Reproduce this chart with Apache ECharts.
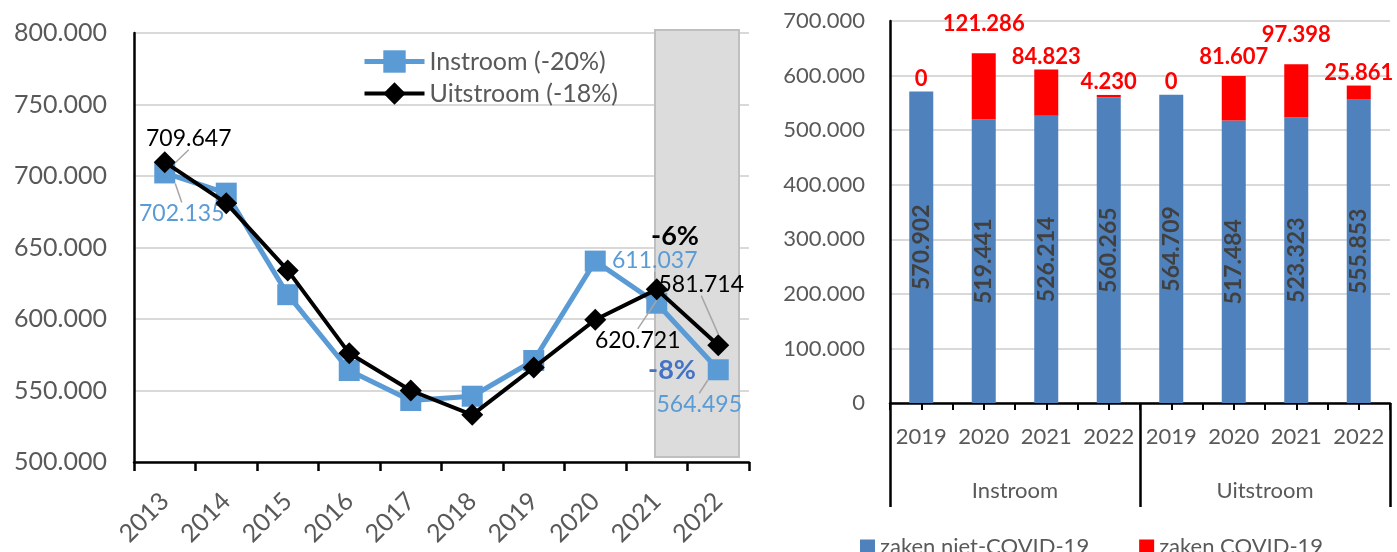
<!DOCTYPE html>
<html>
<head>
<meta charset="utf-8">
<script src="https://cdn.jsdelivr.net/npm/echarts@6/dist/echarts.min.js"></script>
<style>
  html, body { margin: 0; padding: 0; background: #fff; }
  #main { width: 1397px; height: 552px; }
</style>
</head>
<body>
<div id="main"></div>
<script>
// left chart: instroom / uitstroom per year
var years = ['2013','2014','2015','2016','2017','2018','2019','2020','2021','2022'];
var instroom = [702135, 688000, 617000, 564000, 543000, 546000, 571000, 640500, 611037, 564495];
var uitstroom = [709647, 681000, 634000, 576000, 550000, 533000, 566000, 599500, 620721, 581714];
var labelledYears = [0, 8, 9];

// right chart: covid / niet-covid cases
var barYears = ['2019','2020','2021','2022','2019','2020','2021','2022'];
var groups = ['Instroom','Uitstroom'];
var nietCovid = [570902, 519441, 526214, 560265, 564709, 517484, 523323, 555853];
var covid = [0, 121286, 84823, 4230, 0, 81607, 97398, 25861];

// label offsets (styling only)
var inOffsets = {0: [17, 41], 8: [-2, -43], 9: [-19, 35]};
var uitOffsets = {0: [24, -24], 8: [-19, 51], 9: [-17, -61]};
var covidLift = [0, 16, 0, 0, 0, 6, 16, 0];

var FONT = 'Lato';
var GREY = '#595959';

function fmt(v) {
    if (v < 1000) return String(v);
    var k = Math.floor(v / 1000);
    var r = String(v % 1000);
    while (r.length < 3) r = '0' + r;
    return k + '.' + r;
}

function lineData(vals) {
    var arr = [];
    for (var i = 0; i < vals.length; i++) {
        if (labelledYears.indexOf(i) >= 0) {
            arr.push({ value: vals[i], label: { show: true } });
        } else {
            arr.push(vals[i]);
        }
    }
    return arr;
}

var covidData = [];
for (var i = 0; i < covid.length; i++) {
    covidData.push({ value: covid[i], label: { distance: 2 + covidLift[i] } });
}

var myChart = echarts.init(document.getElementById('main'));

var option = {
    animation: false,
    textStyle: { fontFamily: FONT },
    grid: [
        { left: 134, top: 33, width: 615, height: 429 },
        { left: 890, top: 21, width: 500, height: 382 }
    ],
    legend: [
        {
            data: [
                { name: 'Instroom (-20%)', lineStyle: { width: 5 } },
                { name: 'Uitstroom (-18%)', lineStyle: { width: 4 } }
            ],
            orient: 'vertical',
            left: 357,
            top: 44,
            itemWidth: 60,
            itemHeight: 28,
            itemGap: 7,
            textStyle: { fontSize: 25, color: GREY, fontFamily: FONT }
        },
        {
            data: ['zaken niet-COVID-19', 'zaken COVID-19'],
            left: 855,
            top: 531,
            icon: 'rect',
            itemWidth: 15,
            itemHeight: 15,
            itemGap: 50,
            textStyle: { fontSize: 22, color: GREY, fontFamily: FONT }
        }
    ],
    xAxis: [
        {
            type: 'category',
            gridIndex: 0,
            data: years,
            boundaryGap: true,
            axisLine: { lineStyle: { color: '#000', width: 2.5 } },
            axisTick: { show: true, interval: 0, length: 9, lineStyle: { color: '#000', width: 2.5 } },
            axisLabel: { rotate: 45, interval: 0, margin: 35, fontSize: 25, color: GREY, fontFamily: FONT },
            splitLine: { show: false }
        },
        {
            type: 'category',
            gridIndex: 1,
            data: barYears,
            axisLine: { lineStyle: { color: '#000', width: 2.5 } },
            axisTick: { show: true, interval: 0, length: 7, lineStyle: { color: '#000', width: 2 } },
            axisLabel: { interval: 0, margin: 23, fontSize: 22, color: GREY, fontFamily: FONT }
        },
        {
            type: 'category',
            gridIndex: 1,
            position: 'bottom',
            data: barYears,
            axisLine: { show: false },
            axisTick: { show: true, alignWithLabel: true, interval: 0, length: 7, lineStyle: { color: '#000', width: 2 } },
            axisLabel: { show: false }
        },
        {
            type: 'category',
            gridIndex: 1,
            position: 'bottom',
            data: groups,
            axisLine: { show: false },
            axisTick: { show: true, interval: 0, length: 104, lineStyle: { color: '#000', width: 2.5 } },
            axisLabel: { interval: 0, margin: 77, fontSize: 22, color: GREY, fontFamily: FONT }
        }
    ],
    yAxis: [
        {
            type: 'value',
            gridIndex: 0,
            min: 500000,
            max: 800000,
            interval: 50000,
            axisLine: { show: true, lineStyle: { color: '#000', width: 2.5 } },
            axisTick: { show: false },
            axisLabel: { margin: 27, fontSize: 25, color: GREY, fontFamily: FONT, formatter: fmt },
            splitLine: { lineStyle: { color: '#D9D9D9', width: 2 } }
        },
        {
            type: 'value',
            gridIndex: 1,
            min: 0,
            max: 700000,
            interval: 100000,
            axisLine: { show: true, lineStyle: { color: '#000', width: 2.5 } },
            axisTick: { show: false },
            axisLabel: { margin: 25, fontSize: 22, color: GREY, fontFamily: FONT, formatter: fmt },
            splitLine: { lineStyle: { color: '#D9D9D9', width: 2 } }
        }
    ],
    graphic: [
        {
            type: 'rect',
            z: 1,
            shape: { x: 655, y: 30, width: 84, height: 427 },
            style: { fill: '#DCDCDC', stroke: '#BFBFBF', lineWidth: 2 }
        },
        {
            type: 'text',
            z: 100,
            x: 675, y: 236,
            style: { text: '-6%', font: 'bold 27px ' + FONT, fill: '#000', align: 'center', verticalAlign: 'middle' }
        },
        {
            type: 'text',
            z: 100,
            x: 672, y: 370,
            style: { text: '-8%', font: 'bold 27px ' + FONT, fill: '#4472C4', align: 'center', verticalAlign: 'middle' }
        }
    ],
    series: [
        {
            name: 'Instroom (-20%)',
            type: 'line',
            xAxisIndex: 0,
            yAxisIndex: 0,
            data: lineData(instroom),
            symbol: 'rect',
            symbolSize: 21,
            itemStyle: { color: '#5B9BD5' },
            lineStyle: { color: '#5B9BD5', width: 5 },
            label: {
                show: false,
                position: 'inside',
                fontSize: 23,
                color: '#5B9BD5',
                fontFamily: FONT,
                formatter: function (p) { return fmt(p.value); }
            },
            labelLine: { show: true, lineStyle: { color: '#A6A6A6', width: 1.5 } },
            labelLayout: function (p) {
                var o = inOffsets[p.dataIndex] || [0, 0];
                return { dx: o[0], dy: o[1] };
            },
            z: 3
        },
        {
            name: 'Uitstroom (-18%)',
            type: 'line',
            xAxisIndex: 0,
            yAxisIndex: 0,
            data: lineData(uitstroom),
            symbol: 'diamond',
            symbolSize: 22,
            itemStyle: { color: '#000' },
            lineStyle: { color: '#000', width: 4 },
            label: {
                show: false,
                position: 'inside',
                fontSize: 23,
                color: '#000',
                fontFamily: FONT,
                formatter: function (p) { return fmt(p.value); }
            },
            labelLine: { show: true, lineStyle: { color: '#A6A6A6', width: 1.5 } },
            labelLayout: function (p) {
                var o = uitOffsets[p.dataIndex] || [0, 0];
                return { dx: o[0], dy: o[1] };
            },
            z: 4
        },
        {
            name: 'zaken niet-COVID-19',
            type: 'bar',
            xAxisIndex: 1,
            yAxisIndex: 1,
            stack: 'zaken',
            barWidth: 24,
            data: nietCovid,
            itemStyle: { color: '#4F81BD' },
            label: {
                show: true,
                position: 'inside',
                rotate: 90,
                fontSize: 23,
                fontWeight: 'bold',
                color: '#404040',
                fontFamily: FONT,
                formatter: function (p) { return fmt(p.value); }
            }
        },
        {
            name: 'zaken COVID-19',
            type: 'bar',
            xAxisIndex: 1,
            yAxisIndex: 1,
            stack: 'zaken',
            barWidth: 24,
            data: covidData,
            itemStyle: { color: '#FF0000' },
            label: {
                show: true,
                position: 'top',
                fontSize: 22,
                fontWeight: 'bold',
                color: '#FF0000',
                fontFamily: FONT,
                formatter: function (p) { return fmt(p.value); }
            }
        }
    ]
};

myChart.setOption(option);
</script>
</body>
</html>
